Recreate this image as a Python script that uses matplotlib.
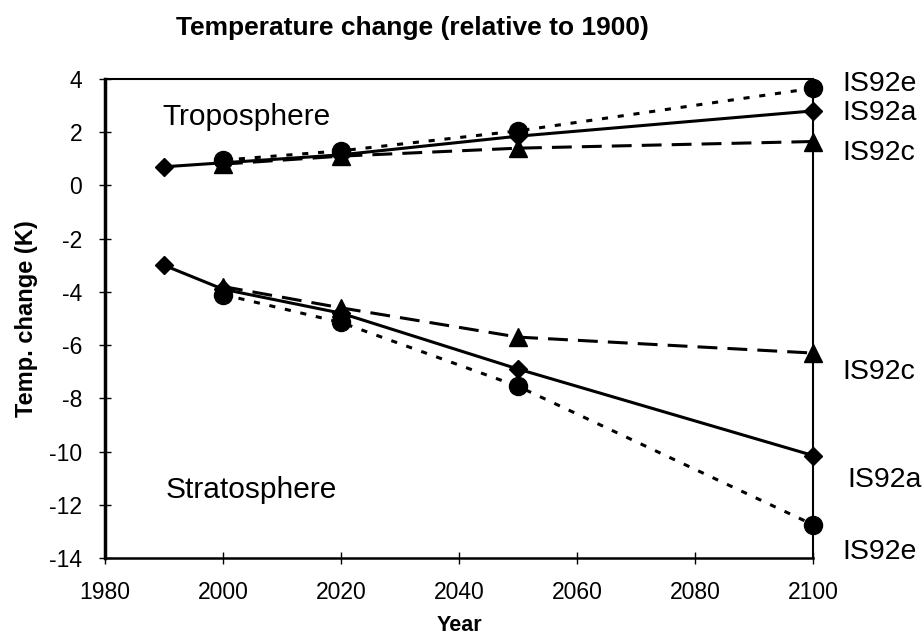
import matplotlib
matplotlib.use("Agg")
import matplotlib.pyplot as plt

plt.rcParams['font.family'] = ['Liberation Sans', 'DejaVu Sans']
plt.rcParams['axes.unicode_minus'] = False

years_a = [1990, 2000, 2020, 2050, 2100]
years_ce = [2000, 2020, 2050, 2100]

tropo_a = [0.7, 0.85, 1.15, 1.85, 2.8]
tropo_e = [0.95, 1.3, 2.05, 3.65]
tropo_c = [0.8, 1.1, 1.4, 1.65]

strato_a = [-3.0, -3.9, -4.8, -6.9, -10.15]
strato_e = [-4.1, -5.15, -7.55, -12.75]
strato_c = [-3.8, -4.6, -5.7, -6.3]

xticks = [1980, 2000, 2020, 2040, 2060, 2080, 2100]
yticks = [-14, -12, -10, -8, -6, -4, -2, 0, 2, 4]

fig = plt.figure(figsize=(9.24, 6.41), dpi=100)
ax = fig.add_axes([0.1136, 0.1295, 0.7664, 0.7473])

lw = 2.2
dot = (0, (2.0, 3.2))
dash = (0, (6.5, 3.3))
for ys, ls, mk, ms, xs in [
    (tropo_a, '-', 'D', 9, years_a), (strato_a, '-', 'D', 9, years_a),
    (tropo_e, dot, 'o', 13, years_ce), (strato_e, dot, 'o', 13, years_ce),
    (tropo_c, dash, '^', 12.5, years_ce), (strato_c, dash, '^', 12.5, years_ce),
]:
    ax.plot(xs, ys, linestyle=ls, color='black', lw=lw, marker=mk, ms=ms,
            markerfacecolor='black', markeredgecolor='black', clip_on=False, zorder=3)

ax.set_xlim(1980, 2100)
ax.set_ylim(-14, 4)
ax.set_xticks(xticks)
ax.set_yticks(yticks)
ax.tick_params(direction='inout', length=9, width=1, labelsize=16.5, pad=12)
ax.spines['left'].set_linewidth(2.5)
ax.spines['bottom'].set_linewidth(1.8)
ax.spines['top'].set_linewidth(1.5)
ax.spines['right'].set_linewidth(1.5)

ax.set_xlabel('Year', fontsize=15.5, fontweight='bold', labelpad=8)
ax.set_ylabel('Temp. change (K)', fontsize=17, fontweight='bold', labelpad=8)
fig.text(0.446, 0.9454, 'Temperature change (relative to 1900)', fontsize=19,
         fontweight='bold', ha='center', va='baseline')

ax.text(1989.8, 2.26, 'Troposphere', fontsize=21.5, va='baseline', ha='left')
ax.text(1990.3, -11.73, 'Stratosphere', fontsize=21.5, va='baseline', ha='left')

lab = dict(fontsize=20.5, va='baseline', ha='left', clip_on=False)
ax.text(2104.9, 3.53, 'IS92e', **lab)
ax.text(2104.9, 2.44, 'IS92a', **lab)
ax.text(2104.9, 0.94, 'IS92c', **lab)
ax.text(2104.9, -7.26, 'IS92c', **lab)
ax.text(2105.8, -11.35, 'IS92a', **lab)
ax.text(2104.9, -14.02, 'IS92e', **lab)

fig.savefig('out.png', dpi=100)
